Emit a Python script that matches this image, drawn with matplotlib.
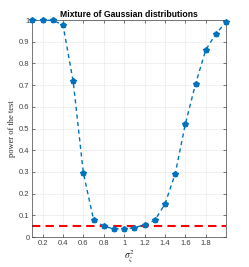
import matplotlib
matplotlib.use("Agg")
import matplotlib.pyplot as plt
import numpy as np

sigma2 = [0.1, 0.2, 0.3, 0.4, 0.5, 0.6, 0.7, 0.8, 0.9, 1.0,
          1.1, 1.2, 1.3, 1.4, 1.5, 1.6, 1.7, 1.8, 1.9, 2.0]
power = [1.0, 1.0, 0.998, 0.978, 0.718, 0.296, 0.080, 0.050, 0.038, 0.038,
         0.043, 0.057, 0.077, 0.152, 0.290, 0.520, 0.705, 0.862, 0.937, 0.990]
alpha = 0.05
xticks = [0.2, 0.4, 0.6, 0.8, 1.0, 1.2, 1.4, 1.6, 1.8]
xticklabels = ["0.2", "0.4", "0.6", "0.8", "1", "1.2", "1.4", "1.6", "1.8"]
yticks = [0, 0.1, 0.2, 0.3, 0.4, 0.5, 0.6, 0.7, 0.8, 0.9, 1.0]
yticklabels = ["0", "0.1", "0.2", "0.3", "0.4", "0.5", "0.6", "0.7", "0.8", "0.9", "1"]

plt.rcParams['font.family'] = ['Liberation Sans', 'DejaVu Sans']
plt.rcParams['mathtext.fontset'] = 'stix'

fig = plt.figure(figsize=(2.49, 2.67), dpi=100)
ax = fig.add_axes([0.13, 0.112, 0.778, 0.813])

ax.axhline(alpha, color='#FF0000', linestyle=(0, (4, 2.5)), linewidth=1.5, zorder=2)
ax.plot(sigma2, power, color='#0072BD', linestyle=(0, (3, 2.5)), linewidth=1.0,
        marker='o', markersize=3.2, zorder=3, clip_on=False)
ax.plot(sigma2, power, color='#0072BD', linestyle='none',
        marker='*', markersize=4, zorder=3, clip_on=False)

ax.set_xlim(0.1, 2.0)
ax.set_ylim(0, 1)
ax.set_xticks(xticks)
ax.set_xticklabels(xticklabels)
ax.set_yticks(yticks)
ax.set_yticklabels(yticklabels)
ax.tick_params(direction='in', length=2.5, width=0.5, labelsize=5.5,
               colors='#404040', top=True, right=True, pad=2)
ax.grid(True, color='#EBEBEB', linewidth=0.5)
ax.set_axisbelow(True)
for s in ax.spines.values():
    s.set_color('#404040')
    s.set_linewidth(0.5)

ax.set_title('Mixture of Gaussian distributions', fontsize=6.2, fontweight='bold', pad=2)
ax.set_ylabel('power of the test', fontsize=6, family='Liberation Serif', labelpad=2,
              color='#262626')
ax.set_xlabel(r'$\sigma_\zeta^2$', fontsize=7, labelpad=1, color='#262626')

fig.savefig('out.png', dpi=100)
